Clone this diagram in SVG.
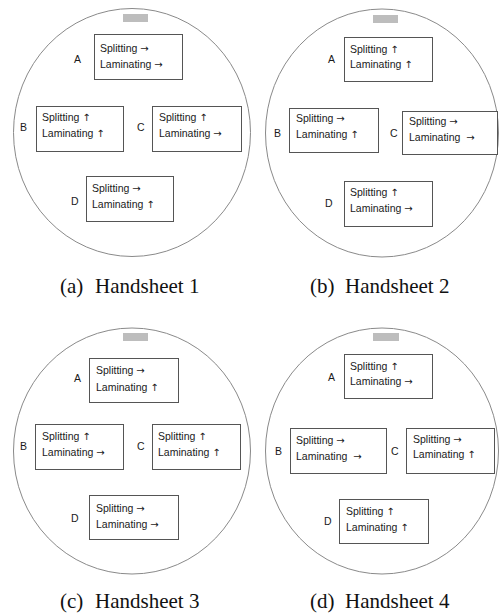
<svg xmlns="http://www.w3.org/2000/svg" width="500" height="615" viewBox="0 0 500 615">
<style>
.sheet{fill:#fff;stroke:#8a8a8a;stroke-width:1}
.tab{fill:#bdbdbd}
.box{fill:#fff;stroke:#555;stroke-width:1}
.t{font-family:"Liberation Sans",Arial,sans-serif;font-size:10.5px;fill:#1a1a1a}
.ar{font-family:"DejaVu Sans",sans-serif;font-size:10px}
.lab{font-family:"Liberation Sans",Arial,sans-serif;font-size:10.5px;fill:#1a1a1a}
.cap{font-family:"Liberation Serif","Times New Roman",serif;font-size:21px;fill:#111}
</style>
<rect width="500" height="615" fill="#fff"/>
<g id="connectors"></g>

<g id="sheet1">
<ellipse class="sheet" cx="132" cy="132.5" rx="118.5" ry="124"/>
<rect class="tab" x="123" y="14" width="25" height="8"/>
<g id="s1A"><rect class="box" x="94.5" y="34.5" width="88" height="45"/><text class="t" x="100" y="52">Splitting <tspan class="ar">→</tspan></text><text class="t" x="100" y="68">Laminating <tspan class="ar">→</tspan></text><text class="lab" x="74" y="63">A</text></g>
<g id="s1B"><rect class="box" x="36.5" y="106.5" width="87" height="45"/><text class="t" x="42" y="121">Splitting <tspan class="ar">↑</tspan></text><text class="t" x="42" y="137">Laminating <tspan class="ar">↑</tspan></text><text class="lab" x="20" y="131">B</text></g>
<g id="s1C"><rect class="box" x="152.5" y="106.5" width="89" height="45"/><text class="t" x="159" y="121">Splitting <tspan class="ar">↑</tspan></text><text class="t" x="159" y="137">Laminating <tspan class="ar">→</tspan></text><text class="lab" x="137" y="131">C</text></g>
<g id="s1D"><rect class="box" x="86.5" y="176.5" width="87" height="45"/><text class="t" x="92" y="192">Splitting <tspan class="ar">→</tspan></text><text class="t" x="92" y="208">Laminating <tspan class="ar">↑</tspan></text><text class="lab" x="71" y="205">D</text></g>
</g>

<g id="sheet2">
<ellipse class="sheet" cx="382" cy="133" rx="116.5" ry="124"/>
<rect class="tab" x="373" y="15" width="25" height="8"/>
<g id="s2A"><rect class="box" x="344.5" y="37.5" width="88" height="44"/><text class="t" x="350" y="53">Splitting <tspan class="ar">↑</tspan></text><text class="t" x="350" y="68">Laminating <tspan class="ar">↑</tspan></text><text class="lab" x="328" y="63">A</text></g>
<g id="s2B"><rect class="box" x="289.5" y="108.5" width="89" height="44"/><text class="t" x="296" y="122">Splitting <tspan class="ar">→</tspan></text><text class="t" x="296" y="138">Laminating <tspan class="ar">↑</tspan></text><text class="lab" x="274" y="137">B</text></g>
<g id="s2C"><rect class="box" x="402.5" y="111.5" width="95" height="43"/><text class="t" x="409" y="125">Splitting <tspan class="ar">→</tspan></text><text class="t" x="409" y="141" xml:space="preserve">Laminating  <tspan class="ar">→</tspan></text><text class="lab" x="390" y="137">C</text></g>
<g id="s2D"><rect class="box" x="344.5" y="181.5" width="88" height="45"/><text class="t" x="350" y="196">Splitting <tspan class="ar">↑</tspan></text><text class="t" x="350" y="212">Laminating <tspan class="ar">→</tspan></text><text class="lab" x="325" y="207">D</text></g>
</g>

<g id="sheet3">
<ellipse class="sheet" cx="132" cy="451" rx="118.5" ry="123"/>
<rect class="tab" x="123" y="333" width="25" height="8"/>
<g id="s3A"><rect class="box" x="89.5" y="358.5" width="89" height="44"/><text class="t" x="96" y="374">Splitting <tspan class="ar">→</tspan></text><text class="t" x="96" y="391">Laminating <tspan class="ar">↑</tspan></text><text class="lab" x="74" y="382">A</text></g>
<g id="s3B"><rect class="box" x="35.5" y="424.5" width="88" height="45"/><text class="t" x="42" y="440">Splitting <tspan class="ar">↑</tspan></text><text class="t" x="42" y="456">Laminating <tspan class="ar">→</tspan></text><text class="lab" x="20" y="450">B</text></g>
<g id="s3C"><rect class="box" x="152.5" y="424.5" width="88" height="45"/><text class="t" x="158" y="440">Splitting <tspan class="ar">↑</tspan></text><text class="t" x="158" y="456">Laminating <tspan class="ar">↑</tspan></text><text class="lab" x="137" y="450">C</text></g>
<g id="s3D"><rect class="box" x="89.5" y="495.5" width="89" height="44"/><text class="t" x="96" y="512">Splitting <tspan class="ar">→</tspan></text><text class="t" x="96" y="528">Laminating <tspan class="ar">→</tspan></text><text class="lab" x="71" y="522">D</text></g>
</g>

<g id="sheet4">
<ellipse class="sheet" cx="382" cy="451" rx="116.5" ry="123"/>
<rect class="tab" x="373" y="333" width="26" height="8"/>
<g id="s4A"><rect class="box" x="344.5" y="354.5" width="88" height="44"/><text class="t" x="350" y="370">Splitting <tspan class="ar">↑</tspan></text><text class="t" x="350" y="385">Laminating <tspan class="ar">→</tspan></text><text class="lab" x="328" y="381">A</text></g>
<g id="s4B"><rect class="box" x="290.5" y="428.5" width="96" height="45"/><text class="t" x="296" y="444">Splitting <tspan class="ar">→</tspan></text><text class="t" x="296" y="460" xml:space="preserve">Laminating  <tspan class="ar">→</tspan></text><text class="lab" x="275" y="455">B</text></g>
<g id="s4C"><rect class="box" x="406.5" y="428.5" width="88" height="45"/><text class="t" x="413" y="443">Splitting <tspan class="ar">→</tspan></text><text class="t" x="413" y="458">Laminating <tspan class="ar">↑</tspan></text><text class="lab" x="391" y="455">C</text></g>
<g id="s4D"><rect class="box" x="339.5" y="499.5" width="89" height="44"/><text class="t" x="346" y="515">Splitting <tspan class="ar">↑</tspan></text><text class="t" x="346" y="531">Laminating <tspan class="ar">↑</tspan></text><text class="lab" x="324" y="525">D</text></g>
</g>

<g id="captions">
<text class="cap" x="60" y="293">(a)<tspan x="95">Handsheet 1</tspan></text>
<text class="cap" x="310" y="293">(b)<tspan x="345">Handsheet 2</tspan></text>
<text class="cap" x="60" y="608">(c)<tspan x="95">Handsheet 3</tspan></text>
<text class="cap" x="310" y="608">(d)<tspan x="345">Handsheet 4</tspan></text>
</g>
</svg>
